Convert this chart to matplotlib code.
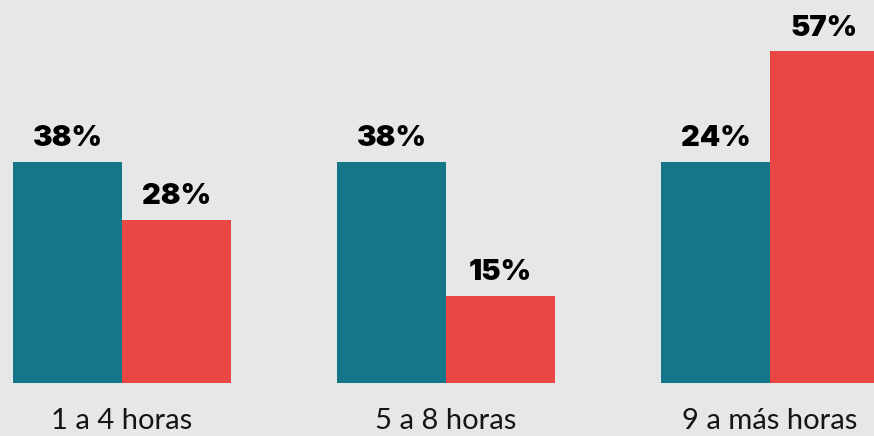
import matplotlib.pyplot as plt
import numpy as np

# datos
categorias = ["1 a 4 horas", "5 a 8 horas", "9 a más horas"]
serie_a = [38, 38, 38]          # altura de barra tal como aparece en la imagen
serie_a_txt = ["38%", "38%", "24%"]
serie_b = [28, 15, 57]
serie_b_txt = ["28%", "15%", "57%"]

fondo = "#e6e7e9"
azul = "#15768a"
rojo = "#e84744"

fig = plt.figure(figsize=(8.74, 4.36), dpi=100)
fig.patch.set_facecolor(fondo)
ax = fig.add_axes([0, 0, 1, 1])
ax.set_facecolor(fondo)

x = np.arange(len(categorias))
ancho = 109 / 324

b1 = ax.bar(x - ancho / 2, serie_a, ancho, color=azul, linewidth=0)
b2 = ax.bar(x + ancho / 2, serie_b, ancho, color=rojo, linewidth=0)

# etiquetas de porcentaje
for barras, txts in [(b1, serie_a_txt), (b2, serie_b_txt)]:
    for rect, t in zip(barras, txts):
        ax.annotate(t, (rect.get_x() + rect.get_width() / 2, rect.get_height()),
                    xytext=(0, 7), textcoords="offset points",
                    ha="center", va="bottom", fontsize=21,
                    fontweight="black", family=["Inter", "Lato"], color="black")

# nombres de categoria
for xi, c in zip(x, categorias):
    ax.text(xi, -6.6, c, ha="center", va="center", fontsize=21,
            fontweight="normal", family="Lato", color="#151515")

escala = 5.82
ax.set_xlim(-122 / 324, (874 - 122) / 324)
ax.set_ylim(-53 / escala, (436 - 53) / escala)
ax.axis("off")

fig.savefig("out.png", dpi=100, facecolor=fondo)
